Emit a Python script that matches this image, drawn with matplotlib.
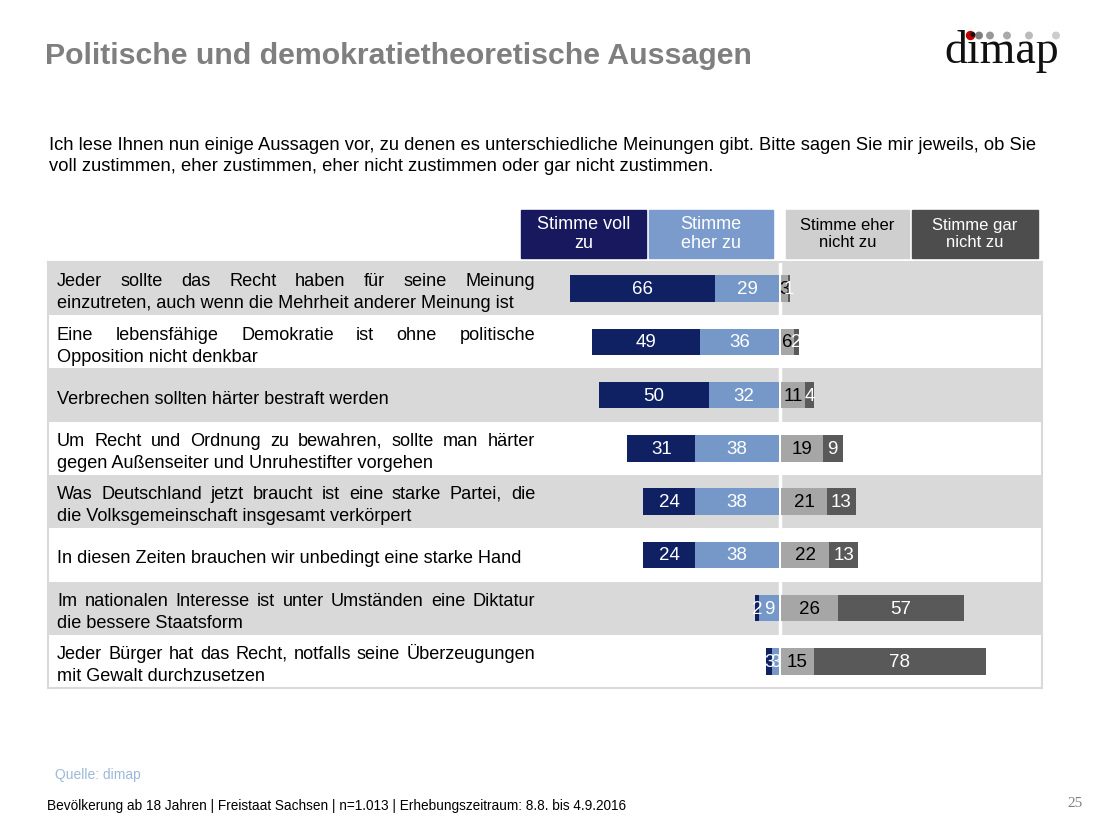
import numpy as np
import matplotlib
matplotlib.use("Agg")
import matplotlib.pyplot as plt
from matplotlib import transforms
from matplotlib.patches import Rectangle, Ellipse
from matplotlib.backends.backend_agg import get_hinting_flag

plt.rcParams['font.family'] = ['Liberation Sans', 'DejaVu Sans']

# data
statements = [
    ("Jeder sollte das Recht haben für seine Meinung",
     "einzutreten, auch wenn die Mehrheit anderer Meinung ist"),
    ("Eine lebensfähige Demokratie ist ohne politische",
     "Opposition nicht denkbar"),
    ("Verbrechen sollten härter bestraft werden",),
    ("Um Recht und Ordnung zu bewahren, sollte man härter",
     "gegen Außenseiter und Unruhestifter vorgehen"),
    ("Was Deutschland jetzt braucht ist eine starke Partei, die",
     "die Volksgemeinschaft insgesamt verkörpert"),
    ("In diesen Zeiten brauchen wir unbedingt eine starke Hand",),
    ("Im nationalen Interesse ist unter Umständen eine Diktatur",
     "die bessere Staatsform"),
    ("Jeder Bürger hat das Recht, notfalls seine Überzeugungen",
     "mit Gewalt durchzusetzen"),
]
voll = [66, 49, 50, 31, 24, 24, 2, 3]
eher = [29, 36, 32, 38, 38, 38, 9, 3]
eher_nicht = [3, 6, 11, 19, 21, 22, 26, 15]
gar_nicht = [1, 2, 4, 9, 13, 13, 57, 78]
legend_labels = ["Stimme voll\nzu", "Stimme\neher zu",
                 "Stimme eher\nnicht zu", "Stimme gar\nnicht zu"]

bar_colors = ["#0f2163", "#7598c8", "#a6a6a6", "#595959"]
text_colors = ["white", "white", "black", "white"]
head_colors = ["#17185e", "#7b9bcc", "#cfcfcf", "#4d4d4d"]
band = "#d9d9d9"

W, H = 1095, 822
fig = plt.figure(figsize=(W / 100, H / 100), dpi=100)


def fx(x):
    return x / W


def fy(y):
    return 1 - y / H


# title, question, footer
fig.text(fx(45), fy(56), "Politische und demokratietheoretische Aussagen",
         fontsize=21.8, fontweight='bold', color='#7f7f7f', va='center')
fig.text(fx(49), fy(156),
         "Ich lese Ihnen nun einige Aussagen vor, zu denen es unterschiedliche Meinungen gibt. "
         "Bitte sagen Sie mir jeweils, ob Sie\nvoll zustimmen, eher zustimmen, eher nicht "
         "zustimmen oder gar nicht zustimmen.",
         fontsize=13.2, va='center', linespacing=1.25)
fig.text(fx(55), fy(775), "Quelle: dimap", fontsize=10, color='#9db8da',
         va='center')
fig.text(fx(47), fy(806),
         "Bevölkerung ab 18 Jahren | Freistaat Sachsen | n=1.013 | Erhebungszeitraum: 8.8. bis 4.9.2016",
         fontsize=9.8, va='center')
fig.text(fx(1083), fy(803), "25", fontsize=11, color='#808080',
         family='Liberation Serif', ha='right', va='center')

# logo
fig.text(fx(1002), fy(63), "dimap", fontsize=33, family='Liberation Serif',
         ha='center', va='baseline', color='#111111')
dot_x = [970.5, 979, 990, 1007, 1029, 1056]
dot_c = ["#c00000", "#7f7f7f", "#999999", "#aaaaaa", "#bbbbbb", "#cccccc"]
dot_s = [8, 6.5, 6.5, 6.5, 6.5, 6.5]
for x, c, s in zip(dot_x, dot_c, dot_s):
    fig.add_artist(Ellipse((fx(x), fy(35.5)), s / W, s / H, color=c,
                           transform=fig.transFigure))

# legend header boxes
boxes = [(521, 646), (649, 773), (786, 909), (912, 1038)]
for (x0, x1), lab, c, tc, fs in zip(boxes, legend_labels, head_colors,
                                     ["white", "white", "black", "white"],
                                     [13, 13, 12, 12]):
    fig.add_artist(Rectangle((fx(x0), fy(258)), fx(x1 - x0), (258 - 210) / H,
                             color=c, transform=fig.transFigure))
    fig.text(fx((x0 + x1) / 2), fy(234), lab, ha='center', va='center',
             color=tc, fontsize=fs, linespacing=1.1)

# bar axes
PX = 2.2
CENTER = 780
ax = fig.add_axes([fx(48), fy(688), (1042 - 48) / W, (688 - 262) / H])
ax.set_xlim((48 - CENTER) / PX, (1042 - CENTER) / PX)
ax.set_ylim(8, 0)
for i in range(0, 8, 2):
    ax.axhspan(i, i + 1, color=band, lw=0, zorder=0)
ax.axvline(0, color='white', lw=2.5, zorder=1)
for s in ax.spines.values():
    s.set_color(band)
    s.set_linewidth(1.5)
ax.set_xticks([])
ax.set_yticks([])

y = np.arange(8) + 0.5
g = 0.45
v = np.array(voll)
e = np.array(eher)
en = np.array(eher_nicht)
gn = np.array(gar_nicht)
segments = [(-(v + e) - g, v), (-e - g, e), (np.full(8, g), en), (en + g, gn)]
for (left, width), vals, c, tc in zip(segments, [voll, eher, eher_nicht, gar_nicht],
                                        bar_colors, text_colors):
    ax.barh(y, width, left=left, height=0.5, color=c, zorder=2)
    for yi, l, w, val in zip(y, left, width, vals):
        ax.text(l + w / 2, yi + 0.02, str(val), ha='center', va='center',
                color=tc, fontsize=13.5, zorder=3)

# row labels, first line justified word by word like the original
blend = transforms.blended_transform_factory(fig.transFigure, ax.transData)
renderer = fig.canvas.get_renderer()
LX0, LX1 = 57, 535
LFS = 13.1


def pixel_shift(t):
    # offset that puts every word's rendered baseline on the same pixel row
    font = renderer._prepare_font(t.get_fontproperties())
    font.set_text(t.get_text(), 0, flags=get_hinting_flag())
    w, h = font.get_width_height()
    d = font.get_descent() / 64
    ym = h / 64 - d
    return (h // 64) - np.floor(ym) - d


def justified(line, yy):
    words = line.split()
    texts = [fig.text(0, 0, w, transform=transforms.IdentityTransform(),
                      va='baseline', ha='left', fontsize=LFS) for w in words]
    widths = [t.get_window_extent(renderer).width for t in texts]
    gap = (LX1 - LX0 - sum(widths)) / (len(words) - 1)
    row = round(H - ax.transData.transform((0, yy))[1])
    x = LX0
    for t, w in zip(texts, widths):
        t.set_x(x)
        t.set_y(H - (row + pixel_shift(t)))
        x += w + gap


for yi, lines in zip(y, statements):
    if len(lines) == 1:
        ax.text(fx(LX0), yi + 0.16, lines[0], transform=blend, va='baseline',
                fontsize=LFS)
    else:
        justified(lines[0], yi - 0.04)
        ax.text(fx(LX0), yi + 0.37, lines[1], transform=blend, va='baseline',
                fontsize=LFS)

fig.savefig("out.png", dpi=100)
